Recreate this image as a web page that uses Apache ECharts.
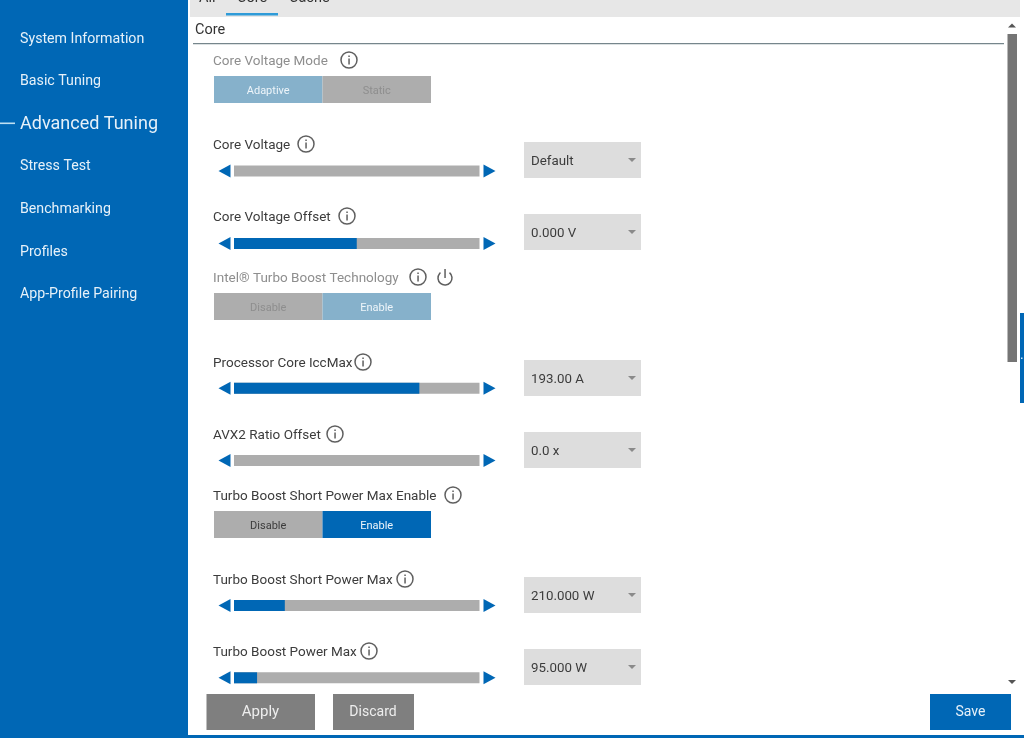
<!DOCTYPE html>
<html>
<head>
<meta charset="utf-8">
<style>
  html, body { margin: 0; padding: 0; background: #fff; }
  #chart-container { width: 1024px; height: 738px; }
</style>
<script src="https://cdn.jsdelivr.net/npm/echarts@6/dist/echarts.min.js"></script>
</head>
<body>
<div id="chart-container"></div>
<script>
var navItems = ["System Information", "Basic Tuning", "Advanced Tuning", "Stress Test", "Benchmarking", "Profiles", "App-Profile Pairing"];
var tabNames = ["All", "Core", "Cache"];
// rows of the panel, the toggle rows have no slider
var rowNames = ["Core Voltage", "Core Voltage Offset", "Intel® Turbo Boost Technology", "Processor Core IccMax", "AVX2 Ratio Offset", "Turbo Boost Short Power Max Enable", "Turbo Boost Short Power Max", "Turbo Boost Power Max"];
// how far each slider is filled, percent of the track
var sliderFill = [0, 50, null, 75.5, 0, null, 20.7, 9.4];
var sliderTrack = [100, 100, null, 100, 100, null, 100, 100];
var dropdownValues = ["Default", "0.000 V", null, "193.00 A", "0.0 x", null, "210.000 W", "95.000 W"];
var toggleOptions = [["Adaptive", "Static"], ["Disable", "Enable"], ["Disable", "Enable"]];

var BLUE = "#0067b5";
var TRACK = "#adadad";
var FONT = 'Roboto, "Noto Sans", sans-serif';

var dom = document.getElementById("chart-container");
var myChart = echarts.init(dom, null, { renderer: "canvas" });

var arrowRows = [];
rowNames.forEach(function (name, i) {
  if (sliderFill[i] !== null) arrowRows.push(i);
});

var option = {
  animation: false,
  backgroundColor: "#fff",
  grid: { left: 234, width: 245.5, top: 134.8, height: 579.2 },
  xAxis: { type: "value", min: 0, max: 100, show: false },
  yAxis: { type: "category", data: rowNames, inverse: true, show: false },
  series: [
    {
      type: "bar",
      data: sliderTrack,
      barWidth: 11,
      barGap: "-100%",
      itemStyle: { color: TRACK },
      z: 2,
    },
    {
      type: "bar",
      data: sliderFill,
      barWidth: 11,
      barGap: "-100%",
      itemStyle: { color: BLUE },
      z: 3,
    },
    {
      type: "scatter",
      data: arrowRows.map(function (i) { return [0, i]; }),
      symbol: "triangle",
      symbolSize: [13, 12],
      symbolRotate: 90,
      symbolOffset: [-9.5, 0],
      itemStyle: { color: BLUE, opacity: 1 },
      z: 4,
    },
    {
      type: "scatter",
      data: arrowRows.map(function (i) { return [100, i]; }),
      symbol: "triangle",
      symbolSize: [13, 12],
      symbolRotate: -90,
      symbolOffset: [10, 0],
      itemStyle: { color: BLUE, opacity: 1 },
      z: 4,
    },
  ],
};
myChart.setOption(option);

function rect(x, y, w, h, fill) {
  return { type: "rect", shape: { x: x, y: y, width: w, height: h }, style: { fill: fill }, silent: true };
}
function text(str, x, y, size, color, align) {
  return {
    type: "text", x: x, y: y + 1.7, silent: true, z: 10,
    style: { text: str, fontSize: size, fontFamily: FONT, fill: color, align: align || "left", verticalAlign: "middle" },
  };
}
function infoIcon(x, y) {
  return [
    { type: "circle", shape: { cx: x, cy: y, r: 8 }, style: { fill: "none", stroke: "#5f5f5f", lineWidth: 1.5 }, silent: true, z: 10 },
    rect(x - 0.7, y - 1.5, 1.5, 6, "#5f5f5f"),
    rect(x - 0.7, y - 4.5, 1.5, 1.6, "#5f5f5f"),
  ];
}
function caret(cx, cy, up, color) {
  var d = up ? -1 : 1;
  return {
    type: "polygon", silent: true, z: 10,
    shape: { points: [[cx - 4, cy - 2 * d], [cx + 4, cy - 2 * d], [cx, cy + 2 * d]] },
    style: { fill: color },
  };
}

var g = [];

// window chrome
g.push(rect(0, 0, 188, 738, BLUE));
g.push(rect(188, 735, 836, 3, BLUE));
g.push(rect(190, 0, 830, 17, "#e7e7e7"));
g.push(rect(226, 13, 52, 2.5, "#2f9bd8"));
g.push(rect(1020, 313, 4, 90, BLUE));
g.push(rect(1021, 357.5, 1.5, 1.5, "#cfe4f3"));
g.push(rect(1007.5, 34, 9.5, 328, "#757575"));
g.push(caret(1012, 25.5, true, "#555"));
g.push(caret(1012, 682, false, "#555"));

// sidebar
var navY = [38, 80, 123, 165, 208, 251, 293];
navItems.forEach(function (name, i) {
  var on = name === "Advanced Tuning";
  g.push(text(name, 20, navY[i], on ? 18 : 14.2, "#e6f1f9"));
});
g.push(rect(0, 122.5, 15, 1.6, "#bfe0f2"));

// tabs and section title
var tabX = [199, 237, 289];
tabNames.forEach(function (name, i) {
  g.push(text(name, tabX[i], -3, 14.5, "#333"));
});
g.push(text("Core", 195, 29, 14.5, "#333"));
g.push(rect(193, 43, 811, 1.3, "#76868c"));

// toggles sit above the slider rows
var toggleLabels = ["Core Voltage Mode", "Intel® Turbo Boost Technology", "Turbo Boost Short Power Max Enable"];
var toggleLabelY = [60, 277, 495];
var toggleTop = [76, 293, 511];
var toggleActive = [0, 1, 1];
var toggleDim = [true, true, false];
var infoX = [349, 418, 453];
toggleLabels.forEach(function (name, i) {
  var dim = toggleDim[i];
  g.push(text(name, 213, toggleLabelY[i], 13.5, dim ? "#8e8e8e" : "#3c3c3c"));
  g = g.concat(infoIcon(infoX[i], toggleLabelY[i]));
  var onColor = dim ? "#86b1cb" : BLUE;
  toggleOptions[i].forEach(function (opt, j) {
    var x = 214 + j * 108.5;
    var active = toggleActive[i] === j;
    g.push(rect(x, toggleTop[i], 108.5, 27, active ? onColor : TRACK));
    g.push(text(opt, x + 54.2, toggleTop[i] + 13.5, 11, active ? "#eef5fa" : dim ? "#8e8e8e" : "#3c3c3c", "center"));
  });
});

// power icon beside the turbo boost label
g.push({
  type: "arc", silent: true, z: 10,
  shape: { cx: 445, cy: 278, r: 7, startAngle: -Math.PI / 2 + 0.7, endAngle: -Math.PI / 2 - 0.7, clockwise: true },
  style: { fill: "none", stroke: "#5f5f5f", lineWidth: 1.5 },
});
g.push(rect(444.3, 269, 1.5, 9, "#5f5f5f"));

// labels, info icons and dropdowns for the slider rows
var sliderInfoX = [306, 347, null, 363, 335, null, 405, 369];
var labelY = [144, 216, null, 362, 434, null, 579, 651];
var dropdownTop = [142, 214, null, 360, 432, null, 577, 649];
rowNames.forEach(function (name, i) {
  if (sliderFill[i] === null) return;
  g.push(text(name, 213, labelY[i], 13.5, "#3c3c3c"));
  g = g.concat(infoIcon(sliderInfoX[i], labelY[i]));
  g.push(rect(524, dropdownTop[i], 117, 36, "#dddddd"));
  g.push(text(dropdownValues[i], 531, dropdownTop[i] + 18, 13.3, "#3c3c3c"));
  g.push(caret(632, dropdownTop[i] + 18, false, "#8a8a8a"));
});

// bottom buttons
g.push(rect(188, 687, 820, 48, "#fff"));
g.push(rect(206.5, 694, 108.5, 36, "#7f7f7f"));
g.push(rect(333, 694, 81, 36, "#7f7f7f"));
g.push(rect(930, 694, 81, 36, BLUE));
g.push(text("Apply", 260.5, 711, 15, "#eeeeee", "center"));
g.push(text("Discard", 373, 711, 14, "#eeeeee", "center"));
g.push(text("Save", 970.5, 711, 14, "#e6f1f9", "center"));

myChart.setOption({ graphic: { elements: g } });

window.addEventListener("resize", myChart.resize);
</script>
</body>
</html>
